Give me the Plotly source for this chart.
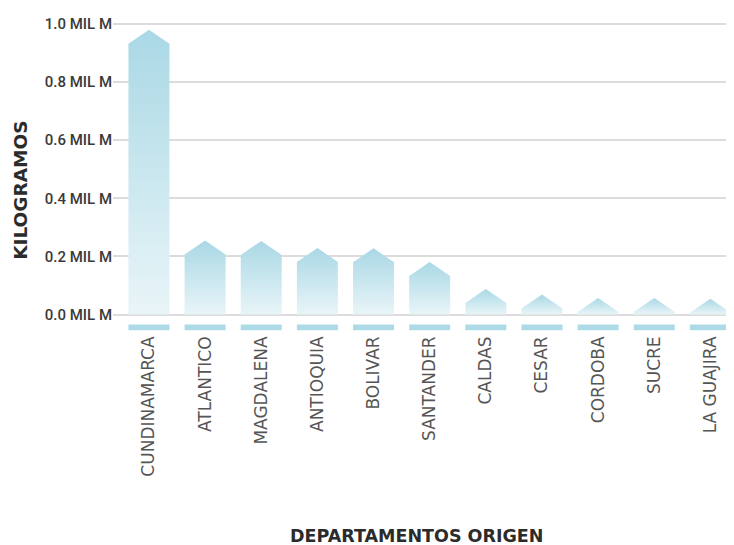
import plotly.graph_objects as go

categories = ["CUNDINAMARCA", "ATLANTICO", "MAGDALENA", "ANTIOQUIA", "BOLIVAR",
              "SANTANDER", "CALDAS", "CESAR", "CORDOBA", "SUCRE", "LA GUAJIRA"]
values = [0.98, 0.255, 0.253, 0.229, 0.228, 0.181, 0.088, 0.069, 0.057, 0.057, 0.054]
tick_vals = [0.0, 0.2, 0.4, 0.6, 0.8, 1.0]
tick_text = ["0.0 MIL M", "0.2 MIL M", "0.4 MIL M", "0.6 MIL M", "0.8 MIL M", "1.0 MIL M"]

BAR_W = 0.73
ROOF = 0.048
TOP_C = "#a9d8e5"
BOT_C = "#e9f5f8"

fig = go.Figure()

for i, v in enumerate(values):
    sh = max(v - ROOF, 0.0)
    xs = [i - BAR_W / 2, i - BAR_W / 2, i, i + BAR_W / 2, i + BAR_W / 2, i - BAR_W / 2]
    ys = [0, sh, v, sh, 0, 0]
    fig.add_trace(go.Scatter(
        x=xs, y=ys, mode="lines", fill="toself",
        line=dict(width=0, color=TOP_C),
        fillgradient=dict(type="vertical", colorscale=[[0, BOT_C], [1, TOP_C]]),
        hoverinfo="skip", showlegend=False,
    ))

# light strips under each category
fig.add_trace(go.Bar(
    x=list(range(len(categories))), y=[0.02] * len(categories), base=-0.054,
    width=BAR_W, marker=dict(color="#acdbe7", line=dict(width=0)),
    hoverinfo="skip", showlegend=False,
))

# the page body has an 8px margin, so the figure is 8px smaller than the window
fig.update_layout(
    width=726, height=537,
    margin=dict(l=105, r=0, t=12, b=212.5),
    paper_bgcolor="white", plot_bgcolor="white",
    xaxis=dict(
        range=[-0.64, 10.42], tickmode="array", automargin=False,
        tickvals=list(range(len(categories))), ticktext=categories,
        tickangle=-90, showgrid=False, zeroline=False, showline=False,
        ticks="", tickfont=dict(family="DejaVu Sans", size=17, color="#555555"),
    ),
    yaxis=dict(
        range=[-0.06, 1.0137], tickmode="array", tickvals=tick_vals, ticktext=tick_text,
        automargin=False,
        showgrid=True, gridcolor="#dcdcdc", gridwidth=1.6, zeroline=False,
        showline=False, ticks="",
        tickfont=dict(family="Roboto", size=15, color="#3a3a3a", weight=500),
    ),
    annotations=[
        dict(text="KILOGRAMOS", xref="paper", yref="paper", x=-0.148, y=0.453,
             xanchor="center", yanchor="middle", textangle=-90, showarrow=False,
             font=dict(family="DejaVu Sans", size=18.5, color="#2b2b2b", weight="bold")),
        dict(text="DEPARTAMENTOS ORIGEN", xref="paper", yref="paper", x=0.4895, y=-0.654,
             xanchor="center", yanchor="middle", showarrow=False,
             font=dict(family="DejaVu Sans", size=17.5, color="#2b2b2b", weight="bold")),
    ],
)

fig.write_html("out.html")
